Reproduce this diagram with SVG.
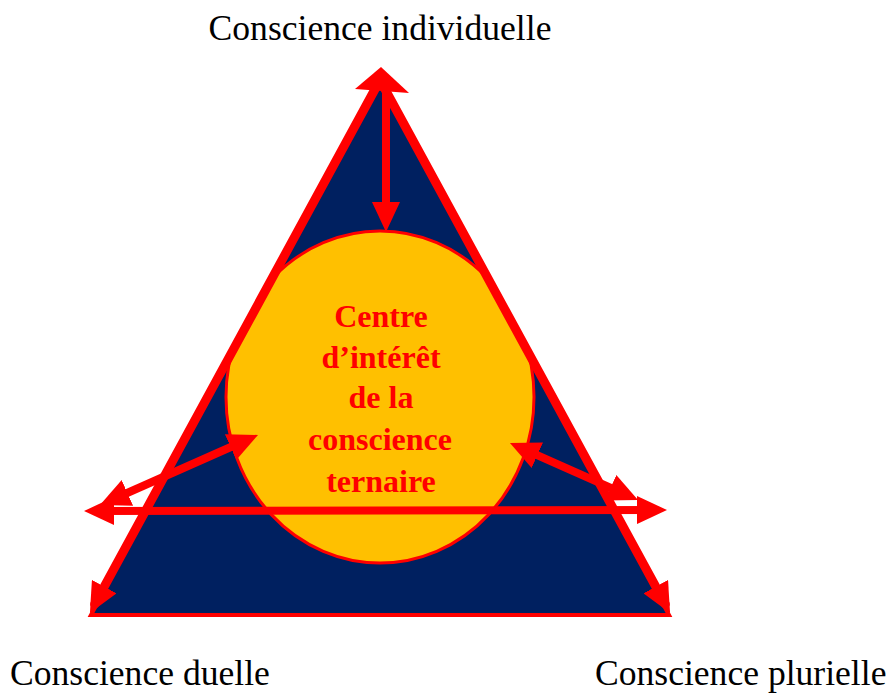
<svg xmlns="http://www.w3.org/2000/svg" width="892" height="694" viewBox="0 0 892 694">
  <style>
    .lbl { font-family: "Liberation Serif", "Times New Roman", serif; font-size: 35.6px; fill: #000; }
    .ctr { font-family: "Liberation Serif", "Times New Roman", serif; font-size: 32px; font-weight: bold; fill: #FF0000; text-anchor: middle; }
    .arr { stroke: #FF0000; stroke-width: 8; fill: none; }
    .edge { stroke: #FF0000; stroke-width: 9; fill: none; stroke-linecap: round; }
  </style>
  <defs>
    <marker id="head" viewBox="0 0 30 28" refX="20" refY="14" markerWidth="30" markerHeight="28" markerUnits="userSpaceOnUse" orient="auto-start-reverse">
      <path d="M0,0 L30,14 L0,28 Z" fill="#FF0000"/>
    </marker>
    <clipPath id="inside">
      <polygon points="380,78 91,615 669,615"/>
    </clipPath>
  </defs>
  <rect width="892" height="694" fill="#FFFFFF"/>

  <g id="triangle">
    <polygon points="380,78 91,615 669,615" fill="#002060" stroke="#FF0000" stroke-width="4" stroke-linejoin="miter"/>
  </g>

  <g id="centre">
    <ellipse cx="380" cy="397" rx="154" ry="166" fill="#FFC000" stroke="#FF0000" stroke-width="3" clip-path="url(#inside)"/>
  </g>

  <g id="connectors">
    <line class="edge" x1="380" y1="80" x2="94.7" y2="604.2" marker-end="url(#head)"/>
    <line class="edge" x1="380" y1="80" x2="665.3" y2="604.2" marker-end="url(#head)"/>
    <polygon points="381,67 409,93 355,89" fill="#FF0000"/>
    <line class="arr" x1="386" y1="86" x2="386" y2="222" marker-end="url(#head)"/>
    <line class="arr" x1="94" y1="511" x2="657" y2="510" marker-start="url(#head)" marker-end="url(#head)"/>
    <line class="arr" x1="109.1" y1="501" x2="248.9" y2="439" marker-start="url(#head)" marker-end="url(#head)"/>
    <line class="arr" x1="519.1" y1="447.1" x2="628.9" y2="495.9" marker-start="url(#head)" marker-end="url(#head)"/>
  </g>

  <g id="centre-label">
    <text class="ctr" x="381" y="327">Centre</text>
    <text class="ctr" x="381" y="368">d’intérêt</text>
    <text class="ctr" x="381" y="408">de la</text>
    <text class="ctr" x="380" y="450">conscience</text>
    <text class="ctr" x="381" y="492">ternaire</text>
  </g>

  <g id="individuelle">
    <text class="lbl" x="380" y="40" text-anchor="middle">Conscience individuelle</text>
  </g>
  <g id="duelle">
    <text class="lbl" x="10" y="685">Conscience duelle</text>
  </g>
  <g id="plurielle">
    <text class="lbl" x="595" y="685">Conscience plurielle</text>
  </g>
</svg>
